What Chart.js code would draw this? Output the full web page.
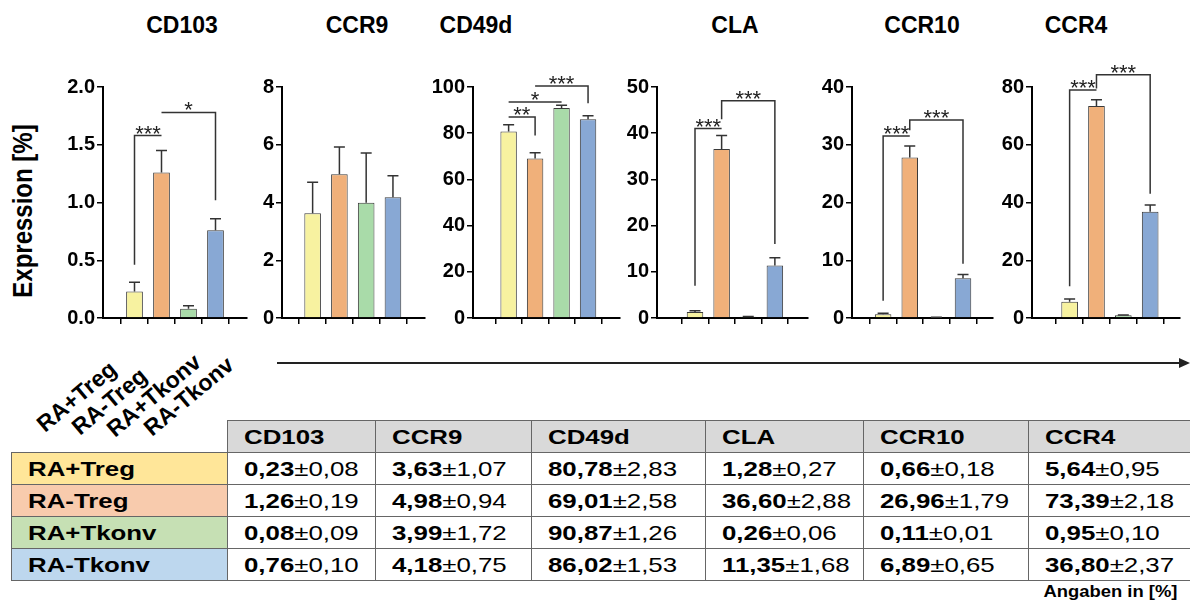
<!DOCTYPE html>
<html>
<head>
<meta charset="utf-8">
<script src="https://cdn.jsdelivr.net/npm/chart.js@4.4.1/dist/chart.umd.min.js"></script>
<style>
  body { margin: 0; width: 1190px; height: 604px; background: #fff; position: relative; overflow: hidden;
         font-family: "Liberation Sans", Arial, sans-serif; color: #000; }
  canvas { position: absolute; }
  .title { position: absolute; top: 14px; font-weight: bold; font-size: 23px; line-height: 23px;
           transform: translateX(-50%); white-space: nowrap; }
  .ylab { position: absolute; left: 23px; top: 211px; font-weight: bold; font-size: 24px; line-height: 24px;
          white-space: nowrap; transform: translate(-50%, -50%) scaleX(1.15) rotate(-90deg); }
  .grp { position: absolute; left: 0; top: 0; font-weight: bold; font-size: 23px; line-height: 23px;
         white-space: nowrap; transform-origin: 0 19px; transform: rotate(-40deg); }
  table { position: absolute; left: 11px; top: 420px; border-collapse: collapse; table-layout: fixed; }
  td { border: 1.5px solid #666; height: 31px; padding: 0 0 0 16px; font-size: 21px; white-space: nowrap;
       vertical-align: middle; overflow: hidden; }
  td.blank { border: none; background: none; }
  td.head { background: #d9d9d9; font-weight: bold; }
  td.name { font-weight: bold; }
  .s { display: inline-block; transform: scaleX(1.23); transform-origin: 0 50%; }
  .note { position: absolute; right: 13px; top: 584px; font-weight: bold; font-size: 16px; line-height: 16px;
          transform: scaleX(1.15); transform-origin: 100% 50%; white-space: nowrap; }
</style>
</head>
<body>
<div class="ylab">Expression [%]</div>
<svg style="position:absolute;left:0;top:0" width="1190" height="604">
  <line x1="277" y1="363" x2="1181" y2="363" stroke="#222" stroke-width="2"/>
  <polygon points="1179,358 1190,363 1179,368" fill="#222"/>
</svg>
<div class="note">Angaben in [%]</div>
<script>
const markers = ["CD103", "CCR9", "CD49d", "CLA", "CCR10", "CCR4"];
const groups = ["RA+Treg", "RA-Treg", "RA+Tkonv", "RA-Tkonv"];

// bar heights and error bars as plotted, one entry per marker
const barRaPlusTreg    = [0.23, 3.63, 80.78, 1.28, 0.66, 5.64];
const errRaPlusTreg    = [0.08, 1.07, 2.83, 0.27, 0.18, 0.95];
const barRaMinusTreg   = [1.26, 4.98, 69.01, 36.60, 27.8, 73.39];
const errRaMinusTreg   = [0.19, 0.94, 2.58, 2.88, 2.0, 2.18];
const barRaPlusTkonv   = [0.08, 3.99, 90.87, 0.26, 0.11, 0.95];
const errRaPlusTkonv   = [0.025, 1.72, 1.26, 0.06, 0.01, 0.10];
const barRaMinusTkonv  = [0.76, 4.18, 86.02, 11.35, 6.89, 36.80];
const errRaMinusTkonv  = [0.10, 0.75, 1.53, 1.68, 0.65, 2.37];

// table values (mean ± SEM) per marker
const tabRaPlusTreg    = [0.23, 3.63, 80.78, 1.28, 0.66, 5.64];
const tabRaPlusTregSd  = [0.08, 1.07, 2.83, 0.27, 0.18, 0.95];
const tabRaMinusTreg   = [1.26, 4.98, 69.01, 36.60, 26.96, 73.39];
const tabRaMinusTregSd = [0.19, 0.94, 2.58, 2.88, 1.79, 2.18];
const tabRaPlusTkonv   = [0.08, 3.99, 90.87, 0.26, 0.11, 0.95];
const tabRaPlusTkonvSd = [0.09, 1.72, 1.26, 0.06, 0.01, 0.10];
const tabRaMinusTkonv  = [0.76, 4.18, 86.02, 11.35, 6.89, 36.80];
const tabRaMinusTkonvSd = [0.10, 0.75, 1.53, 1.68, 0.65, 2.37];

const yMax  = [2, 8, 100, 50, 40, 80];
const yStep = [0.5, 2, 20, 10, 10, 20];

// significance: marker, group a, group b, line level, left leg to, right leg to, label
const brackets = [
  [0, 0, 1, 1.58, 0.46, null, "***"],
  [0, 1, 3, 1.78, null, 1.02, "*"],
  [2, 0, 1, 87, null, 79, "**"],
  [2, 0, 2, 93.5, null, null, "*"],
  [2, 1, 3, 100.4, null, 93, "***"],
  [3, 0, 1, 41, 7, null, "***"],
  [3, 1, 3, 47, 43, 16, "***"],
  [4, 0, 1, 31.5, 3, null, "***"],
  [4, 1, 3, 34.3, 32.5, 9.4, "***"],
  [5, 0, 1, 79, 11, null, "***"],
  [5, 1, 3, 84.2, 79.5, 43, "***"],
];

const barColors = ["#f7f2a0", "#f0b07a", "#a9dba9", "#88a8d4"];
const cellColors = ["#ffe699", "#f8cbad", "#c6e0b4", "#bdd7ee"];

// panel geometry on the page
const axisLeft  = [103, 282, 473, 657, 852, 1032];
const firstBar  = [121, 299, 496, 682.5, 870, 1057.5];
const barGap    = [36, 35.7, 35.3, 35.5, 35.5, 35.8];
const axisRight = [247, 425, 620, 808, 993, 1180];
const titleX    = [182, 357, 476, 735, 922, 1076];

Chart.defaults.font.family = "Liberation Sans";
Chart.defaults.color = "#000";

const Y_W = 60, TOP = 45, H = 300, PAD_TOP = 42, X_H = 10, PAD_BOT = 17, PAD_R = 6;

markers.forEach((name, m) => {
  const means = [barRaPlusTreg[m], barRaMinusTreg[m], barRaPlusTkonv[m], barRaMinusTkonv[m]];
  const errs = [errRaPlusTreg[m], errRaMinusTreg[m], errRaPlusTkonv[m], errRaMinusTkonv[m]];
  const marks = brackets.filter(b => b[0] === m);

  const t = document.createElement("div");
  t.className = "title";
  t.style.left = titleX[m] + "px";
  t.textContent = name;
  document.body.appendChild(t);

  const cv = document.createElement("canvas");
  cv.width = Y_W + (axisRight[m] - axisLeft[m]) + PAD_R;
  cv.height = H;
  cv.style.left = (axisLeft[m] - Y_W) + "px";
  cv.style.top = TOP + "px";
  document.body.appendChild(cv);

  const lastBar = firstBar[m] + 3 * barGap[m];
  const xMin = -(firstBar[m] - axisLeft[m]) / barGap[m];
  const xMax = 3 + (axisRight[m] - lastBar) / barGap[m];

  const extras = {
    id: "extras",
    afterDatasetsDraw(chart) {
      const ctx = chart.ctx, xs = chart.scales.x, ys = chart.scales.y;
      ctx.save();
      ctx.strokeStyle = "#333";
      ctx.lineWidth = 1.5;
      chart.getDatasetMeta(0).data.forEach((bar, i) => {
        const top = ys.getPixelForValue(means[i] + errs[i]);
        ctx.beginPath();
        ctx.moveTo(bar.x, bar.y);
        ctx.lineTo(bar.x, top);
        ctx.moveTo(bar.x - 5.5, top);
        ctx.lineTo(bar.x + 5.5, top);
        ctx.stroke();
      });
      ctx.fillStyle = "#222";
      ctx.font = "22px 'Liberation Sans'";
      ctx.textAlign = "center";
      ctx.textBaseline = "alphabetic";
      marks.forEach(([, a, b, level, legL, legR, label]) => {
        const x1 = xs.getPixelForValue(a), x2 = xs.getPixelForValue(b);
        const yl = ys.getPixelForValue(level);
        ctx.beginPath();
        if (legL !== null) {
          ctx.moveTo(x1, ys.getPixelForValue(legL));
          ctx.lineTo(x1, yl);
        } else {
          ctx.moveTo(x1, yl);
        }
        ctx.lineTo(x2, yl);
        if (legR !== null) ctx.lineTo(x2, ys.getPixelForValue(legR));
        ctx.stroke();
        ctx.fillText(label, (x1 + x2) / 2, yl + 5);
      });
      ctx.restore();
    }
  };

  new Chart(cv, {
    type: "bar",
    data: {
      datasets: [{
        data: means.map((v, i) => ({ x: i, y: v })),
        backgroundColor: barColors,
        borderColor: "#3a3a3a",
        borderWidth: 1,
        barPercentage: 0.62,
        categoryPercentage: 1,
      }],
    },
    options: {
      responsive: false,
      animation: false,
      layout: { padding: { top: PAD_TOP, bottom: PAD_BOT, right: PAD_R, left: 0 } },
      plugins: { legend: { display: false }, tooltip: { enabled: false } },
      scales: {
        x: {
          type: "linear",
          min: xMin,
          max: xMax,
          afterBuildTicks: s => { s.ticks = [0, 1, 2, 3].map(v => ({ value: v })); },
          afterFit: s => { s.height = X_H; },
          ticks: { display: false },
          grid: { drawOnChartArea: false, tickLength: 6, color: "#000", lineWidth: 1.5 },
          border: { color: "#000", width: 2 },
        },
        y: {
          min: 0,
          max: yMax[m],
          afterFit: s => { s.width = Y_W; },
          ticks: {
            stepSize: yStep[m],
            padding: 2,
            color: "#000",
            font: { size: 20, weight: "bold" },
            callback: v => (m === 0 ? v.toFixed(1) : v),
          },
          grid: { drawOnChartArea: false, tickLength: 6, color: "#000", lineWidth: 1.5 },
          border: { color: "#000", width: 2 },
        },
      },
    },
    plugins: [extras],
  });
});

// rotated group names under the first panel (baseline start points)
const grpAnchors = [[45, 433], [80, 436], [115, 438], [152, 437]];
groups.forEach((g, i) => {
  const d = document.createElement("div");
  d.className = "grp";
  d.style.left = grpAnchors[i][0] + "px";
  d.style.top = (grpAnchors[i][1] - 19) + "px";
  d.textContent = g;
  document.body.appendChild(d);
});

// summary table
const colW = [216, 148, 156, 174, 158, 165, 165];
const fmt = v => v.toFixed(2).replace(".", ",");
const allMeans = [tabRaPlusTreg, tabRaMinusTreg, tabRaPlusTkonv, tabRaMinusTkonv];
const allSds = [tabRaPlusTregSd, tabRaMinusTregSd, tabRaPlusTkonvSd, tabRaMinusTkonvSd];
const tbl = document.createElement("table");
tbl.style.width = colW.reduce((a, b) => a + b, 0) + "px";
const cg = document.createElement("colgroup");
colW.forEach(wd => { const c = document.createElement("col"); c.style.width = wd + "px"; cg.appendChild(c); });
tbl.appendChild(cg);
let html = '<tr><td class="blank"></td>' +
  markers.map(mk => '<td class="head"><span class="s">' + mk + '</span></td>').join("") + "</tr>";
groups.forEach((g, r) => {
  html += '<tr><td class="name" style="background:' + cellColors[r] + '"><span class="s">' + g + "</span></td>";
  markers.forEach((mk, m) => {
    html += '<td><span class="s"><b>' + fmt(allMeans[r][m]) + "</b>±" + fmt(allSds[r][m]) + "</span></td>";
  });
  html += "</tr>";
});
tbl.insertAdjacentHTML("beforeend", html);
document.body.appendChild(tbl);
</script>
</body>
</html>
